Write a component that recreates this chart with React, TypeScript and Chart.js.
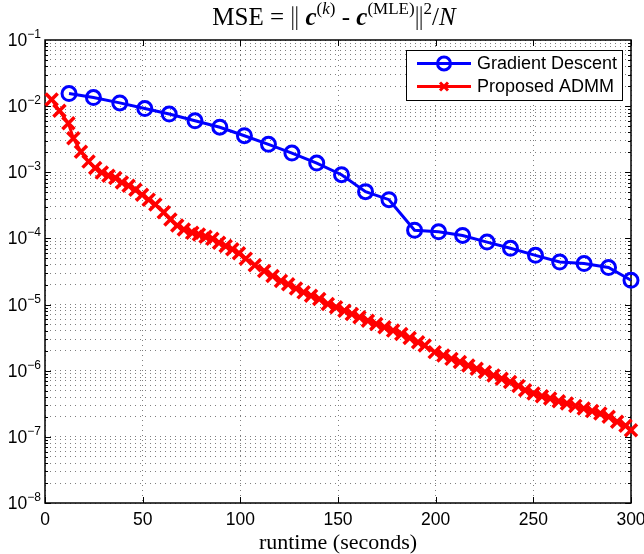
import React, { useEffect, useRef } from "react";
import { Chart, registerables } from "chart.js";

Chart.register(...registerables);

// ---------- data ----------
const seriesNames = ["Gradient Descent", "Proposed ADMM"];

const gdTime = [
  12.3, 24.8, 38.3, 51.1, 63.6, 76.8, 89.5, 102.1, 114.4, 126.4, 139.1, 151.8,
  164.1, 176.1, 189.2, 201.5, 213.8, 226.3, 238.3, 251.1, 263.5, 276.0, 288.5, 300,
];
const gdMse = [
  0.0155, 0.0135, 0.0112, 0.0092, 0.0076, 0.006, 0.0048, 0.00357, 0.00265, 0.00195,
  0.00138, 0.00092, 0.00051, 0.000385, 0.000133, 0.000126, 0.000111, 8.8e-5, 7.1e-5,
  5.55e-5, 4.4e-5, 4.17e-5, 3.63e-5, 2.33e-5,
];

const admmTime = [
  3.4, 7.4, 12.0, 14.5, 18.4, 22.3, 25.7, 29.1, 32.5, 36.0, 39.4, 42.8, 46.3, 49.7,
  53.1, 56.5, 60.8, 64.2, 67.7, 71.1, 75.4, 78.8, 82.2, 85.7, 89.1, 92.5, 95.9, 99.3,
  102.8, 107.4, 112.2, 116.5, 120.8, 124.5, 128.5, 132.4, 136.2, 140.4, 144.8, 149.0,
  153.3, 157.1, 161.0, 165.3, 169.6, 173.8, 178.2, 182.4, 186.7, 191.0, 194.4, 199.5,
  203.9, 208.1, 212.4, 216.7, 221.0, 225.2, 229.6, 233.8, 238.1, 242.4, 245.8, 250.1,
  254.4, 258.6, 263.0, 267.2, 271.5, 275.8, 280.1, 284.3, 288.6, 292.9, 297.2, 300,
];
const admmMse = [
  0.0126, 0.0085, 0.0055, 0.00327, 0.00205, 0.00145, 0.00116, 0.00099, 0.000885,
  0.000818, 0.000703, 0.000627, 0.000546, 0.000459, 0.000386, 0.000325, 0.000249,
  0.000193, 0.000157, 0.000136, 0.000122, 0.000115, 0.000106, 9.9e-5, 8.6e-5, 7.66e-5,
  6.84e-5, 5.95e-5, 4.95e-5, 3.93e-5, 3.22e-5, 2.71e-5, 2.28e-5, 2.03e-5, 1.75e-5,
  1.53e-5, 1.36e-5, 1.21e-5, 1.02e-5, 9.08e-6, 8.07e-6, 7.2e-6, 6.42e-6, 5.71e-6,
  5.09e-6, 4.54e-6, 4.04e-6, 3.6e-6, 3.13e-6, 2.7e-6, 2.4e-6, 1.91e-6, 1.7e-6, 1.51e-6,
  1.35e-6, 1.2e-6, 1.07e-6, 9.55e-7, 8.5e-7, 7.58e-7, 6.76e-7, 5.89e-7, 5.06e-7,
  4.51e-7, 4.11e-7, 3.8e-7, 3.45e-7, 3.19e-7, 2.94e-7, 2.68e-7, 2.45e-7, 2.26e-7,
  2.01e-7, 1.69e-7, 1.47e-7, 1.26e-7,
];

const xTicks = [0, 50, 100, 150, 200, 250, 300];
const yTickExponents = [-1, -2, -3, -4, -5, -6, -7, -8];
const xAxisLabel = "runtime (seconds)";

const BLUE = "#0000ff";
const RED = "#ff0000";
const SANS = '"Liberation Sans", Arial, Helvetica, sans-serif';
const SERIF = '"Liberation Serif", "DejaVu Serif", "Times New Roman", serif';

function drawMarker(ctx: CanvasRenderingContext2D, kind: string, x: number, y: number, color: string) {
  ctx.save();
  ctx.strokeStyle = color;
  ctx.lineWidth = 3;
  ctx.setLineDash([]);
  ctx.beginPath();
  if (kind === "circle") {
    ctx.arc(x, y, 6.5, 0, Math.PI * 2);
  } else {
    const d = 4;
    ctx.moveTo(x - d, y - d);
    ctx.lineTo(x + d, y + d);
    ctx.moveTo(x - d, y + d);
    ctx.lineTo(x + d, y - d);
  }
  ctx.stroke();
  ctx.restore();
}

function drawBars(ctx: CanvasRenderingContext2D, x: number, base: number, F: number) {
  // double vertical bar (norm)
  ctx.save();
  ctx.lineWidth = 1;
  ctx.strokeStyle = "#000";
  ctx.beginPath();
  const top = base - F * 0.75;
  const bot = base + F * 0.2;
  ctx.moveTo(x + 2.5, top);
  ctx.lineTo(x + 2.5, bot);
  ctx.moveTo(x + 6.5, top);
  ctx.lineTo(x + 6.5, bot);
  ctx.stroke();
  ctx.restore();
}

const framePlugin = {
  id: "frame",
  beforeDatasetsDraw(chart: any) {
    const { ctx, chartArea: a, scales } = chart;
    const xs = scales.x;
    const ys = scales.y;
    ctx.save();
    ctx.setLineDash([]);
    ctx.strokeStyle = "#000";
    ctx.lineWidth = 1;
    ctx.beginPath();
    for (let e = -8; e <= -2; e++) {
      for (let m = 1; m <= 9; m++) {
        const y = Math.round(ys.getPixelForValue(m * Math.pow(10, e))) + 0.5;
        const len = m === 1 ? 6 : 3;
        ctx.moveTo(a.left, y);
        ctx.lineTo(a.left + len, y);
        ctx.moveTo(a.right, y);
        ctx.lineTo(a.right - len, y);
      }
    }
    for (const t of xTicks) {
      const x = Math.round(xs.getPixelForValue(t)) + 0.5;
      ctx.moveTo(x, a.bottom);
      ctx.lineTo(x, a.bottom - 6);
      ctx.moveTo(x, a.top);
      ctx.lineTo(x, a.top + 6);
    }
    ctx.stroke();
    ctx.lineWidth = 1.5;
    ctx.strokeRect(a.left, a.top, a.right - a.left, a.bottom - a.top);

    ctx.fillStyle = "#000";
    // x tick labels
    ctx.font = `17.5px ${SANS}`;
    ctx.textAlign = "center";
    ctx.textBaseline = "alphabetic";
    for (const t of xTicks) {
      ctx.fillText(String(t), xs.getPixelForValue(t), a.bottom + 22);
    }
    // y tick labels 10^e
    const R = a.left - 4;
    for (const e of yTickExponents) {
      const y = ys.getPixelForValue(Math.pow(10, e));
      const expStr = (e < 0 ? "\u2212" : "") + Math.abs(e);
      ctx.font = `12px ${SANS}`;
      ctx.textAlign = "right";
      const ew = ctx.measureText(expStr).width;
      ctx.fillText(expStr, R, y - 2);
      ctx.font = `17.5px ${SANS}`;
      ctx.fillText("10", R - ew, y + 6);
    }
    // x axis label
    ctx.font = `22px ${SERIF}`;
    ctx.textAlign = "center";
    ctx.fillText(xAxisLabel, (a.left + a.right) / 2, a.bottom + 46);

    // title
    const F = 25;
    const S = 17;
    const up = -11;
    const pieces = [
      { t: "MSE = ", f: `${F}px ${SERIF}`, dy: 0 },
      { t: "BARS", f: "", dy: 0, w: 9 },
      { t: " ", f: `${F}px ${SERIF}`, dy: 0 },
      { t: "c", f: `italic bold ${F}px ${SERIF}`, dy: 0 },
      { t: "(", f: `${S}px ${SERIF}`, dy: up },
      { t: "k", f: `italic ${S}px ${SERIF}`, dy: up },
      { t: ")", f: `${S}px ${SERIF}`, dy: up },
      { t: " - ", f: `${F}px ${SERIF}`, dy: 0 },
      { t: "c", f: `italic bold ${F}px ${SERIF}`, dy: 0 },
      { t: "(MLE)", f: `${S}px ${SERIF}`, dy: up },
      { t: "BARS", f: "", dy: 0, w: 9 },
      { t: "2", f: `${S}px ${SERIF}`, dy: up },
      { t: "/", f: `${F}px ${SERIF}`, dy: 0 },
      { t: "N", f: `italic ${F}px ${SERIF}`, dy: 0 },
    ];
    ctx.textAlign = "left";
    const widthOf = (p: any) => {
      if (p.t === "BARS") return p.w;
      ctx.font = p.f;
      return ctx.measureText(p.t).width;
    };
    let total = 0;
    for (const p of pieces) total += widthOf(p);
    let x = (a.left + a.right) / 2 - 4 - total / 2;
    const base = 25;
    for (const p of pieces) {
      const w = widthOf(p);
      if (p.t === "BARS") {
        drawBars(ctx, x, base, F);
      } else {
        ctx.font = p.f;
        ctx.fillText(p.t, x, base + p.dy);
      }
      x += w;
    }
    ctx.restore();
  },
  afterDraw(chart: any) {
    const { ctx, chartArea: a } = chart;
    ctx.save();
    const w = 216;
    const h = 50;
    const left = a.right - 9 - w;
    const top = a.top + 10;
    ctx.setLineDash([]);
    ctx.fillStyle = "#fff";
    ctx.fillRect(left, top, w, h);
    ctx.strokeStyle = "#000";
    ctx.lineWidth = 1;
    ctx.strokeRect(left + 0.5, top + 0.5, w, h);
    const rows = [
      { name: seriesNames[0], color: BLUE, kind: "circle", y: top + 13.5 },
      { name: seriesNames[1], color: RED, kind: "cross", y: top + 36.5 },
    ];
    ctx.font = `18px ${SANS}`;
    ctx.textBaseline = "middle";
    ctx.textAlign = "left";
    for (const r of rows) {
      ctx.strokeStyle = r.color;
      ctx.lineWidth = 3;
      ctx.beginPath();
      ctx.moveTo(left + 11, r.y);
      ctx.lineTo(left + 65, r.y);
      ctx.stroke();
      drawMarker(ctx, r.kind, left + 38, r.y, r.color);
      ctx.fillStyle = "#000";
      ctx.fillText(r.name, left + 71, r.y + 1);
    }
    ctx.restore();
  },
};

export default function App() {
  const ref = useRef<HTMLCanvasElement | null>(null);
  useEffect(() => {
    if (!ref.current) return;
    const gridColor = "rgba(0,0,0,0.5)";
    const chart = new Chart(ref.current, {
      type: "line",
      data: {
        datasets: [
          {
            label: seriesNames[0],
            data: gdTime.map((t, i) => ({ x: t, y: gdMse[i] })),
            borderColor: BLUE,
            borderWidth: 3,
            pointStyle: "circle",
            pointRadius: 7,
            pointBorderWidth: 3,
            pointBorderColor: BLUE,
            pointBackgroundColor: "rgba(0,0,0,0)",
            tension: 0,
            clip: false as any,
          },
          {
            label: seriesNames[1],
            data: admmTime.map((t, i) => ({ x: t, y: admmMse[i] })),
            borderColor: RED,
            borderWidth: 3,
            pointStyle: "crossRot",
            pointRadius: 8.5,
            pointBorderWidth: 3.5,
            pointBorderColor: RED,
            pointBackgroundColor: RED,
            tension: 0,
            clip: false as any,
          },
        ],
      },
      options: {
        animation: false,
        responsive: false,
        devicePixelRatio: 1,
        layout: { padding: { left: 45, right: 13, top: 40, bottom: 51 } },
        plugins: { legend: { display: false }, tooltip: { enabled: false }, title: { display: false } },
        scales: {
          x: {
            type: "linear",
            min: 0,
            max: 300,
            ticks: { display: false, stepSize: 50 },
            grid: { color: gridColor, lineWidth: 1, drawTicks: false },
            border: { display: false, dash: [1, 4] },
            afterBuildTicks: (s: any) => {
              s.ticks = xTicks.map((v) => ({ value: v }));
            },
            afterFit: (s: any) => {
              s.height = 0;
            },
          },
          y: {
            type: "logarithmic",
            min: 1e-8,
            max: 1e-1,
            ticks: { display: false },
            grid: { color: gridColor, lineWidth: 1, drawTicks: false },
            border: { display: false, dash: [1, 4] },
            afterBuildTicks: (s: any) => {
              const t: any[] = [];
              for (let e = -8; e <= -2; e++) for (let m = 1; m <= 9; m++) t.push({ value: m * Math.pow(10, e) });
              t.push({ value: 1e-1 });
              s.ticks = t;
            },
            afterFit: (s: any) => {
              s.width = 0;
            },
          },
        },
      },
      plugins: [framePlugin],
    });
    return () => chart.destroy();
  }, []);
  return (
    <div style={{ position: "absolute", left: 0, top: 0, width: 644, height: 554, background: "#fff" }}>
      <canvas ref={ref} width={644} height={554} style={{ width: 644, height: 554 }} />
    </div>
  );
}
